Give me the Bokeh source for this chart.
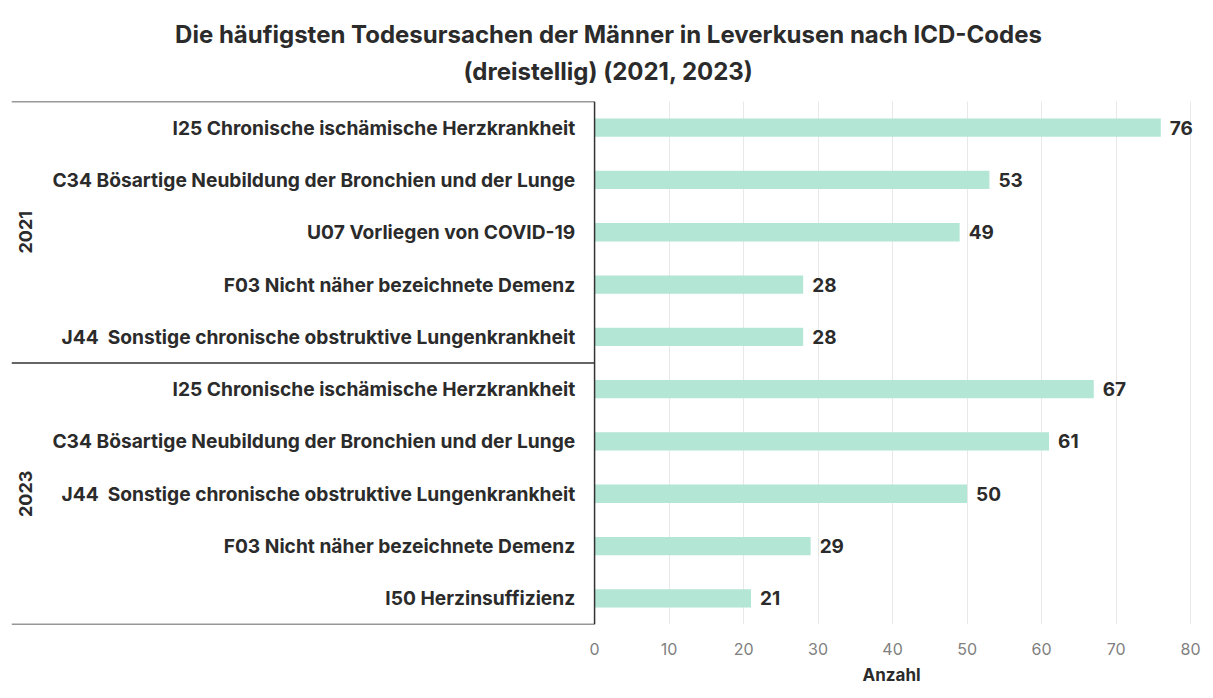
import math
from bokeh.plotting import figure
from bokeh.models import FactorRange, Range1d, FixedTicker, ColumnDataSource, Title, Span
from bokeh.core.properties import value
from bokeh.embed import file_html
from bokeh.resources import INLINE

# ---------------- data ----------------
years = ["2021", "2023"]
causes_2021 = [
    "I25 Chronische ischämische Herzkrankheit",
    "C34 Bösartige Neubildung der Bronchien und der Lunge",
    "U07 Vorliegen von COVID-19",
    "F03 Nicht näher bezeichnete Demenz",
    "J44\u00a0 Sonstige chronische obstruktive Lungenkrankheit",
]
values_2021 = [76, 53, 49, 28, 28]
causes_2023 = [
    "I25 Chronische ischämische Herzkrankheit",
    "C34 Bösartige Neubildung der Bronchien und der Lunge",
    "J44\u00a0 Sonstige chronische obstruktive Lungenkrankheit",
    "F03 Nicht näher bezeichnete Demenz",
    "I50 Herzinsuffizienz",
]
values_2023 = [67, 61, 50, 29, 21]
x_ticks = [0, 10, 20, 30, 40, 50, 60, 70, 80]
title_line1 = "Die häufigsten Todesursachen der Männer in Leverkusen nach ICD-Codes"
title_line2 = "(dreistellig) (2021, 2023)"
x_label = "Anzahl"

# ---------------- build ----------------
FONT = value("Inter")
groups = [(years[0], causes_2021, values_2021), (years[1], causes_2023, values_2023)]
factors, vals, labels = [], [], []
for yr, cs, vs in groups:
    for c, v in zip(cs, vs):
        factors.append((yr, c))
        vals.append(v)
        labels.append(str(v))

LEFT, RIGHT = -78.26, 82.0
LABEL_X = -2.6
YEAR_X = -76.4

y_range = FactorRange(factors=list(reversed(factors)), group_padding=0, range_padding=0,
                      factor_padding=0)
p = figure(width=1205, height=690, y_range=y_range, x_range=Range1d(LEFT, RIGHT),
           output_backend="svg", toolbar_location=None,
           min_border_left=11, min_border_right=0, min_border_top=101, min_border_bottom=66)
p.outline_line_color = None
p.background_fill_color = "white"
p.border_fill_color = "white"

src = ColumnDataSource(dict(y=factors, v=vals, lab=labels, name=[f[1] for f in factors]))

p.hbar(y="y", left=0, right="v", height=0.35, source=src, fill_color="#b3e6d4",
       line_color=None)
p.text(x="v", y="y", text="lab", source=src, x_offset=9, text_baseline="middle",
       text_align="left", text_font=FONT, text_font_size="19px", text_font_style="bold",
       text_color="#2b2b2b")
p.text(x=LABEL_X, y="y", text="name", source=src, text_baseline="middle",
       text_align="right", text_font=FONT, text_font_size="19.2px", text_font_style="bold",
       text_color="#2b2b2b")

# year group labels (rotated), centred on each group's middle row
yr_src = ColumnDataSource(dict(y=[(yr, cs[len(cs) // 2]) for yr, cs, _ in groups],
                               t=[g[0] for g in groups]))
p.text(x=YEAR_X, y="y", text="t", source=yr_src, angle=math.pi / 2, text_align="center",
       text_baseline="middle", text_font=FONT, text_font_size="18px",
       text_font_style="bold", text_color="#2b2b2b")

# box lines around the category labels
sep_y = [(years[0], causes_2021[0], 0.5), (years[0], causes_2021[-1], -0.5),
         (years[1], causes_2023[-1], -0.5)]
p.segment(x0=[LEFT] * 3, x1=[0] * 3, y0=sep_y, y1=sep_y, line_color="#333333",
          line_width=1.5)
p.add_layout(Span(location=0, dimension="height", line_color="#333333", line_width=1.5))

# axes / grid
p.yaxis.visible = False
p.ygrid.grid_line_color = None
p.xaxis.ticker = FixedTicker(ticks=x_ticks)
p.xgrid.ticker = FixedTicker(ticks=x_ticks)
p.xgrid.grid_line_color = "#e8e8e8"
p.xaxis.axis_line_color = None
p.xaxis.major_tick_line_color = None
p.xaxis.minor_tick_line_color = None
p.xaxis.major_label_standoff = 12
p.xaxis.major_label_text_font = "Inter"
p.xaxis.major_label_text_font_size = "16px"
p.xaxis.major_label_text_color = "#808080"

p.add_layout(Title(text=x_label, align="left", offset=851, text_font="Inter",
                   text_font_size="17px", text_font_style="bold", text_color="#2b2b2b",
                   standoff=10), "below")

p.title.text = title_line1
p.title.align = "center"
p.title.text_font = "Inter"
p.title.text_font_size = "24px"
p.title.text_font_style = "bold"
p.title.text_color = "#2b2b2b"
p.title.standoff = -20
p.add_layout(Title(text=title_line2, align="center", text_font="Inter",
                   text_font_size="24px", text_font_style="bold", text_color="#2b2b2b",
                   standoff=32), "above")

open("out.html", "w").write(file_html(p, INLINE))
